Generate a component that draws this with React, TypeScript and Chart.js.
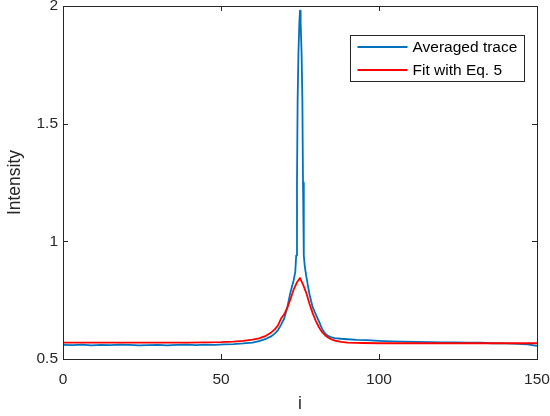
import React, { useEffect, useRef } from "react";
import { Chart, registerables } from "chart.js";

Chart.register(...registerables);

const traceI = [
  0, 3, 6, 9, 12, 15, 18, 21, 24, 27, 30, 33, 36, 39, 42, 45, 48, 51, 54, 57, 60, 62, 64, 66, 67, 68, 69, 70, 71, 72, 73,
  73.5, 73.8, 74.05, 74.25, 74.5, 74.8, 75, 75.2, 75.5, 75.75, 75.95, 76.2, 76.5, 77, 78, 79, 80, 81, 82, 83, 84, 85, 86,
  88, 90, 93, 96, 100, 104, 108, 112, 116, 120, 124, 128, 132, 136, 140, 144, 147, 150,
];
const traceY = [
  0.56, 0.559, 0.561, 0.558, 0.56, 0.559, 0.561, 0.56, 0.558, 0.559, 0.56, 0.558, 0.56, 0.561, 0.559, 0.561, 0.56, 0.562,
  0.563, 0.566, 0.57, 0.576, 0.584, 0.597, 0.608, 0.622, 0.645, 0.672, 0.72, 0.785, 0.835, 0.87, 0.94, 1.25, 1.6, 1.8,
  1.93, 1.98, 1.93, 1.8, 1.6, 1.25, 0.94, 0.895, 0.85, 0.775, 0.72, 0.69, 0.66, 0.628, 0.607, 0.597, 0.592, 0.589, 0.586,
  0.584, 0.581, 0.58, 0.577, 0.575, 0.574, 0.573, 0.572, 0.571, 0.571, 0.57, 0.569, 0.567, 0.566, 0.564, 0.562, 0.556,
];

const fitI = [
  0, 10, 20, 30, 40, 45, 50, 54, 57, 60, 62, 64, 65, 66, 67, 68, 69, 70, 71, 72, 73, 74, 75, 76, 77, 78, 79, 80, 81, 82,
  83, 84, 85, 86, 88, 90, 95, 100, 110, 120, 130, 140, 150,
];
const fitY = [
  0.57, 0.57, 0.57, 0.57, 0.57, 0.571, 0.572, 0.574, 0.577, 0.582, 0.588, 0.597, 0.605, 0.614, 0.626, 0.642, 0.672, 0.69,
  0.718, 0.755, 0.795, 0.825, 0.844, 0.815, 0.78, 0.735, 0.695, 0.662, 0.635, 0.614, 0.6, 0.59, 0.583, 0.578, 0.573, 0.57,
  0.568, 0.567, 0.567, 0.567, 0.567, 0.567, 0.567,
];

const xTicks = [0, 50, 100, 150];
const yTicks = [0.5, 1, 1.5, 2];
const seriesLabels = ["Averaged trace", "Fit with Eq. 5"];
const seriesColors = ["#0072BD", "#FF0000"];

const FONT = "'Liberation Sans', Arial, Helvetica, sans-serif";

const boxPlugin = {
  id: "matlabBox",
  afterDraw(chart: any) {
    const { ctx, chartArea } = chart;
    const xs = chart.scales.x;
    const ys = chart.scales.y;
    ctx.save();
    ctx.strokeStyle = "#262626";
    ctx.lineWidth = 1;
    ctx.strokeRect(
      Math.round(chartArea.left) + 0.5,
      Math.round(chartArea.top) + 0.5,
      Math.round(chartArea.right - chartArea.left),
      Math.round(chartArea.bottom - chartArea.top)
    );
    const tl = 5;
    ctx.beginPath();
    for (const v of xTicks) {
      const px = Math.round(xs.getPixelForValue(v)) + 0.5;
      ctx.moveTo(px, chartArea.bottom);
      ctx.lineTo(px, chartArea.bottom - tl);
      ctx.moveTo(px, chartArea.top);
      ctx.lineTo(px, chartArea.top + tl);
    }
    for (const v of yTicks) {
      const py = Math.round(ys.getPixelForValue(v)) + 0.5;
      ctx.moveTo(chartArea.left, py);
      ctx.lineTo(chartArea.left + tl, py);
      ctx.moveTo(chartArea.right, py);
      ctx.lineTo(chartArea.right - tl, py);
    }
    ctx.stroke();

    // legend
    ctx.font = `15.5px ${FONT}`;
    const labels = chart.data.datasets.map((d: any) => d.label);
    const maxW = Math.max(...labels.map((l: string) => ctx.measureText(l).width));
    const lineLen = 50;
    const boxW = Math.round(7 + lineLen + 5 + maxW + 7);
    const rowH = 23;
    const boxH = rowH * labels.length;
    const bx = Math.round(chartArea.right - 13 - boxW) + 0.5;
    const by = Math.round(chartArea.top + 29) + 0.5;
    ctx.fillStyle = "#ffffff";
    ctx.fillRect(bx, by, boxW, boxH);
    ctx.strokeStyle = "#262626";
    ctx.lineWidth = 1;
    ctx.strokeRect(bx, by, boxW, boxH);
    chart.data.datasets.forEach((d: any, i: number) => {
      const cy = by + rowH * i + rowH / 2;
      ctx.strokeStyle = d.borderColor;
      ctx.lineWidth = 1.8;
      ctx.beginPath();
      ctx.moveTo(bx + 7, cy);
      ctx.lineTo(bx + 7 + lineLen, cy);
      ctx.stroke();
      ctx.fillStyle = "#000000";
      ctx.textBaseline = "middle";
      ctx.textAlign = "left";
      ctx.fillText(d.label, bx + 7 + lineLen + 5, cy + 1);
    });
    ctx.restore();
  },
};

export default function App() {
  const canvasRef = useRef<HTMLCanvasElement | null>(null);

  useEffect(() => {
    if (!canvasRef.current) return;
    const chart = new Chart(canvasRef.current, {
      type: "line",
      data: {
        datasets: [
          {
            label: seriesLabels[0],
            data: traceI.map((x, k) => ({ x, y: traceY[k] })),
            borderColor: seriesColors[0],
            backgroundColor: seriesColors[0],
            borderWidth: 1.8,
            borderJoinStyle: "round",
            pointRadius: 0,
            tension: 0,
            order: 1,
          },
          {
            label: seriesLabels[1],
            data: fitI.map((x, k) => ({ x, y: fitY[k] })),
            borderColor: seriesColors[1],
            backgroundColor: seriesColors[1],
            borderWidth: 1.8,
            borderJoinStyle: "round",
            pointRadius: 0,
            tension: 0,
            order: 0,
          },
        ],
      },
      options: {
        animation: false,
        responsive: false,
        devicePixelRatio: 1,
        layout: { padding: { left: 0, right: 13, top: 6, bottom: 0 } },
        plugins: { legend: { display: false }, tooltip: { enabled: false } },
        scales: {
          x: {
            type: "linear",
            min: 0,
            max: 150,
            afterBuildTicks: (s: any) => {
              s.ticks = xTicks.map((v) => ({ value: v }));
            },
            afterFit: (s: any) => {
              s.height = 57;
              s.paddingLeft = 0;
              s.paddingRight = 0;
            },
            grid: { display: false, drawTicks: false },
            border: { display: false },
            ticks: {
              color: "#262626",
              font: { family: FONT, size: 15.5 },
              padding: 11,
              maxRotation: 0,
              callback: (v: any) => String(v),
            },
            title: {
              display: true,
              text: "i",
              color: "#262626",
              font: { family: FONT, size: 17.5 },
              padding: { top: 0, bottom: 1 },
            },
          },
          y: {
            type: "linear",
            min: 0.5,
            max: 2,
            afterBuildTicks: (s: any) => {
              s.ticks = yTicks.map((v) => ({ value: v }));
            },
            afterFit: (s: any) => {
              s.width = 63;
              s.paddingTop = 0;
              s.paddingBottom = 0;
            },
            grid: { display: false, drawTicks: false },
            border: { display: false },
            ticks: {
              color: "#262626",
              font: { family: FONT, size: 15.5 },
              padding: 5,
              callback: (v: any) => String(v),
            },
            title: {
              display: true,
              text: "Intensity",
              color: "#262626",
              font: { family: FONT, size: 17.5 },
              padding: { top: 5, bottom: 0 },
            },
          },
        },
      },
      plugins: [boxPlugin],
    });
    return () => chart.destroy();
  }, []);

  return (
    <div style={{ position: "fixed", left: 0, top: 0, width: 550, height: 416, background: "#fff" }}>
      <canvas ref={canvasRef} width={550} height={416} style={{ width: 550, height: 416 }} />
    </div>
  );
}
